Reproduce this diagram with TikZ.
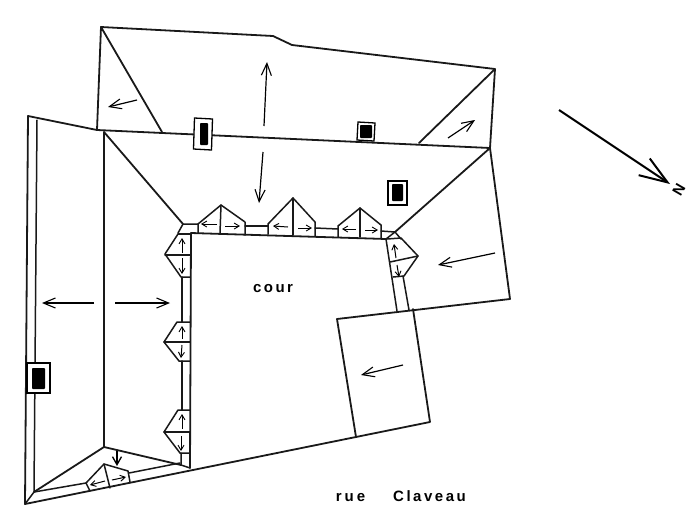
\documentclass[tikz,border=0pt]{standalone}
\usepackage{fontspec}
\setmainfont{Liberation Sans}
\usetikzlibrary{arrows.meta}
\tikzset{
  wall/.style={line width=1.8pt,line join=round,line cap=round,black!90},
  thin wall/.style={line width=1.5pt,line join=round,line cap=round,black!90},
  big arrow/.style={line width=1.2pt,-{Straight Barb[length=12pt,width=10pt,line width=1.1pt]}},
  both arrow/.style={line width=1.2pt,{Straight Barb[length=12pt,width=10pt,line width=1.1pt]}-},
  small arrow/.style={line width=1pt,-{Straight Barb[length=5pt,width=6pt,line width=.9pt]}},
  chimney/.style={draw=black,line width=1.3pt,fill=white},
  flue/.style={fill=black,rounded corners=.8pt},
  label text/.style={font=\bfseries\fontsize{15}{17}\selectfont,inner sep=0pt,anchor=base}
}
\begin{document}
\begin{tikzpicture}[x=1pt,y=-1pt]
\useasboundingbox (0,0) rectangle (691,512);
% upper wing
\draw[wall] (97,130) -- (101,27) -- (273,36) -- (292,45) -- (495,69) -- (490,148);
\draw[wall] (101,27) -- (162,132);
\draw[wall] (495,69) -- (419,143);
% ridge line
\draw[wall] (28,116) -- (97,130) -- (490,148);
% outer envelope
\draw[wall] (28,116) -- (25,504) -- (430,422) -- (413,309);
\draw[wall] (490,148) -- (510,299) -- (337,319) -- (356,437);
\draw[thin wall] (37,120) -- (34,492) -- (25,504);
\draw[wall] (104,132) -- (104,447);
\draw[wall] (104,132) -- (183,224);
\draw[wall] (490,148) -- (395,232);
\draw[wall] (104,447) -- (34,492);
\draw[wall] (104,447) -- (181,465);
% courtyard
\draw[wall] (190,468) -- (191,233) -- (386,239);
\draw[thin wall] (386,239) -- (397,311);
\draw[thin wall] (403,276) -- (409,310);
% top gutter and dormers
\draw[thin wall] (178,233) -- (183,224) -- (198,224);
\draw[thin wall] (198,233) -- (198,224) -- (221,205) -- (245,222) -- (245,235);
\draw[thin wall] (221,205) -- (220,233);
\draw[thin wall] (245,226) -- (268,226);
\draw[thin wall] (268,234) -- (268,224) -- (293,198) -- (315,222) -- (315,236);
\draw[thin wall] (293,198) -- (293,235);
\draw[thin wall] (315,228) -- (338,229);
\draw[thin wall] (338,237) -- (338,226) -- (360,208) -- (381,225) -- (381,238);
\draw[thin wall] (360,208) -- (360,237);
\draw[thin wall] (381,231) -- (395,232) -- (401,239);
\draw[thin wall] (395,232) -- (386,239);
% left column dormers
\draw[thin wall] (178,234) -- (191,234);
\draw[thin wall] (178,234) -- (165,254) -- (181,277) -- (190,277);
\draw[thin wall] (165,255) -- (190,255);
\draw[thin wall] (182,277) -- (182,322);
\draw[thin wall] (190,322) -- (177,322) -- (164,342) -- (179,361) -- (190,361);
\draw[thin wall] (164,342) -- (190,342);
\draw[thin wall] (182,361) -- (182,410);
\draw[thin wall] (190,410) -- (178,410) -- (164,432) -- (180,453) -- (190,453);
\draw[thin wall] (164,432) -- (190,432);
\draw[thin wall] (181,453) -- (181,465) -- (190,468);
% right column dormer
\draw[thin wall] (387,239) -- (401,238) -- (418,256) -- (404,276) -- (393,277);
\draw[thin wall] (390,262) -- (418,256);
% bottom dormer
\draw[thin wall] (34,492) -- (86,483) -- (104,464) -- (128,471) -- (130,482);
\draw[thin wall] (86,483) -- (90,491);
\draw[thin wall] (104,464) -- (110,488);
\draw[thin wall] (129,473) -- (180,463);
% chimneys
\draw[chimney] (194.5,118) -- (212.5,119) -- (211.5,150) -- (193.5,149) -- cycle;
\fill[flue] (200,123) rectangle (208,145);
\draw[chimney] (358,122) -- (375,123) -- (374,141) -- (357,140) -- cycle;
\fill[flue] (360,125) rectangle (372,138);
\draw[chimney] (388,181) rectangle (407,205);
\fill[flue] (392,184) rectangle (403,201);
\draw[chimney] (27,363) rectangle (50,393);
\fill[flue] (32,368) rectangle (45,389);
% main arrows
\draw[both arrow] (267,62) -- (264,126);
\draw[big arrow] (263,152) -- (259,203);
\draw[big arrow] (137,100) -- (108,107);
\draw[big arrow] (448,138) -- (475,120);
\draw[big arrow] (495,253) -- (438,265);
\draw[big arrow] (403,365) -- (361,375);
\draw[big arrow] (94,303) -- (42,303);
\draw[big arrow] (115,303) -- (170,303);
\draw[line width=2pt,-{Straight Barb[length=28pt,width=20pt,line width=2pt]}] (559,110) -- (670,184);
\draw[line width=1.5pt,-{Straight Barb[length=8pt,width=9pt,line width=1.3pt]}] (117,451) -- (117,466);
% small arrows
\draw[small arrow] (217,224) -- (201,224);
\draw[small arrow] (225,226) -- (240,226);
\draw[small arrow] (288,227) -- (273,226);
\draw[small arrow] (298,228) -- (312,228);
\draw[small arrow] (356,229) -- (342,229);
\draw[small arrow] (365,230) -- (378,230);
\draw[small arrow] (182,253) -- (182,238);
\draw[small arrow] (182,258) -- (182,274);
\draw[small arrow] (182,339) -- (182,326);
\draw[small arrow] (182,345) -- (181,358);
\draw[small arrow] (182,429) -- (182,414);
\draw[small arrow] (181,436) -- (181,451);
\draw[small arrow] (396,258) -- (394,244);
\draw[small arrow] (397,265) -- (399,277);
\draw[small arrow] (105,481) -- (90,485);
\draw[small arrow] (112,480) -- (126,477);
% labels
\node[label text] (cour) at (273,292) {c\kern2.5pt o\kern2.5pt u\kern2.5pt r};
\node[label text] (rue) at (350.5,501) {r\kern3pt u\kern3pt e};
\node[label text] (claveau) at (429.5,501) {C\kern2.5pt l\kern2.5pt a\kern2.5pt v\kern2.5pt e\kern2.5pt a\kern2.5pt u};
\node[font=\bfseries\fontsize{15}{17}\selectfont,inner sep=0pt,rotate=-120] (nord) at (679,190) {N};
\end{tikzpicture}
\end{document}
